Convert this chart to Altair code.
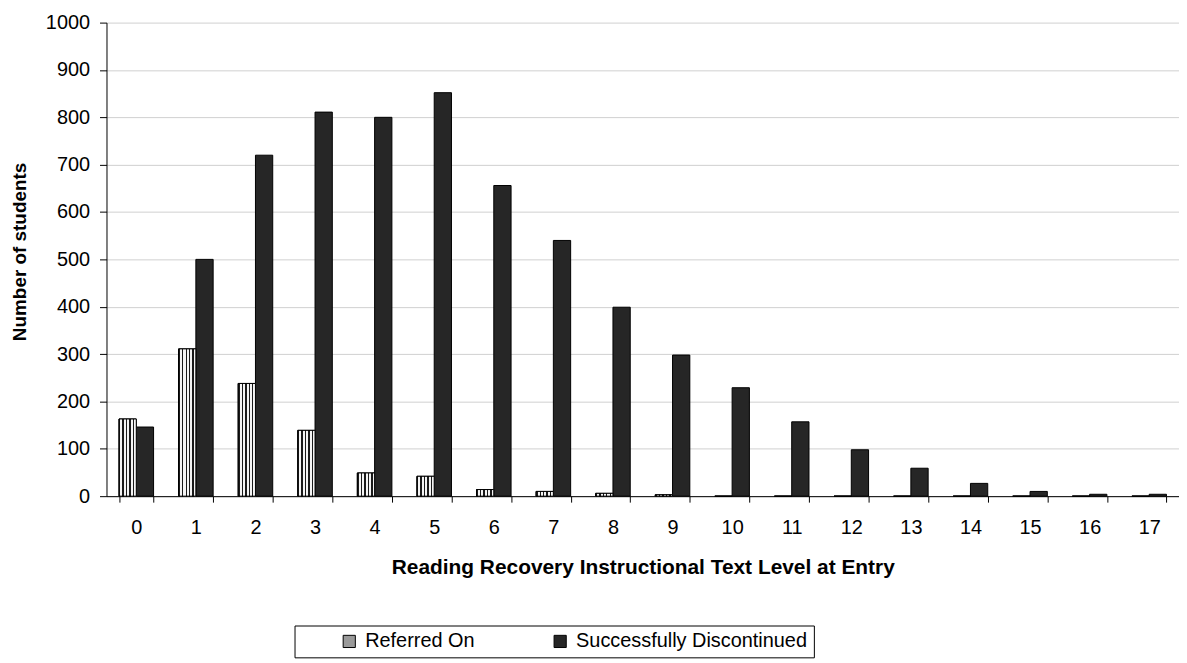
import altair as alt
import pandas as pd

levels = [str(i) for i in range(18)]
referred_on = [163, 311, 238, 139, 49, 42, 14, 10, 6, 3, 0, 0, 0, 0, 0, 0, 0, 0]
successfully_discontinued = [146, 500, 720, 811, 800, 852, 656, 540, 399, 298, 229, 157, 98, 59, 27, 10, 4, 4]
series_names = ["Referred On", "Successfully Discontinued"]

rows = []
for lvl, r, s in zip(levels, referred_on, successfully_discontinued):
    rows.append({"level": lvl, "series": series_names[0], "students": r})
    rows.append({"level": lvl, "series": series_names[1], "students": s})
df = pd.DataFrame(rows)

FONT = "Liberation Sans"

# striped fill to suggest the hatched pattern of "Referred On"
stops = []
n = 5
for i in range(n):
    a = i / n
    b = (i + 0.42) / n
    c = (i + 1) / n
    stops += [
        {"offset": a, "color": "#1a1a1a"},
        {"offset": b, "color": "#1a1a1a"},
        {"offset": b, "color": "#f4f4f4"},
        {"offset": c, "color": "#f4f4f4"},
    ]
hatch = {"gradient": "linear", "x1": 0, "y1": 0, "x2": 1, "y2": 0, "stops": stops}

x_enc = alt.X(
    "level:N",
    sort=levels,
    scale=alt.Scale(domain=levels, paddingInner=0.42, paddingOuter=0.21),
    axis=alt.Axis(
        title="Reading Recovery Instructional Text Level at Entry",
        labelAngle=0,
        tickBand="extent",
        tickSize=6,
        labelPadding=16,
        titlePadding=19,
        titleFontSize=21,
    ),
)
xoff_enc = alt.XOffset("series:N", sort=series_names, scale=alt.Scale(domain=series_names))
y_enc = alt.Y(
    "students:Q",
    scale=alt.Scale(domain=[0, 1000]),
    axis=alt.Axis(
        title="Number of students",
        values=list(range(0, 1001, 100)),
        format="d",
        tickSize=7,
        labelPadding=10,
        titlePadding=16,
        titleFontSize=19,
        titleY=230,
    ),
)

base = alt.Chart(df).mark_bar(stroke="black", strokeWidth=1).encode(
    x=x_enc,
    xOffset=xoff_enc,
    y=y_enc,
    fill=alt.Fill(
        "series:N",
        sort=series_names,
        scale=alt.Scale(domain=series_names, range=["#9a9a9a", "#262626"]),
        legend=alt.Legend(
            title=None,
            orient="none",
            legendX=189,
            legendY=606,
            direction="horizontal",
            columns=2,
            columnPadding=36,
            symbolType="square",
            symbolSize=150,
            symbolOffset=39,
            symbolStrokeColor="black",
            symbolStrokeWidth=1,
            strokeColor="black",
            padding=6,
            labelFontSize=20,
            labelFont=FONT,
            labelColor="black",
            labelOffset=6,
            labelLimit=500,
        ),
    ),
)

hatched = alt.Chart(df).transform_filter(
    alt.datum.series == "Referred On"
).mark_bar(stroke="black", strokeWidth=1).encode(
    x=x_enc,
    xOffset=xoff_enc,
    y=y_enc,
    fill=alt.value(hatch),
)

chart = alt.layer(base, hatched).properties(
    width=1078,
    height=476,
).configure(
    autosize=alt.AutoSizeParams(type="none"),
    padding={"left": 99, "top": 13, "right": 0, "bottom": 164},
    font=FONT,
).configure_view(
    stroke=None,
).configure_axis(
    labelFont=FONT,
    titleFont=FONT,
    labelFontSize=20,
    titleFontWeight="bold",
    labelColor="black",
    titleColor="black",
    domainColor="black",
    tickColor="black",
    gridColor="#d0d0d0",
).configure_axisX(
    grid=False,
).configure_axisY(
    grid=True,
)

chart.save("out.html", embed_options={"renderer": "svg", "actions": False})
